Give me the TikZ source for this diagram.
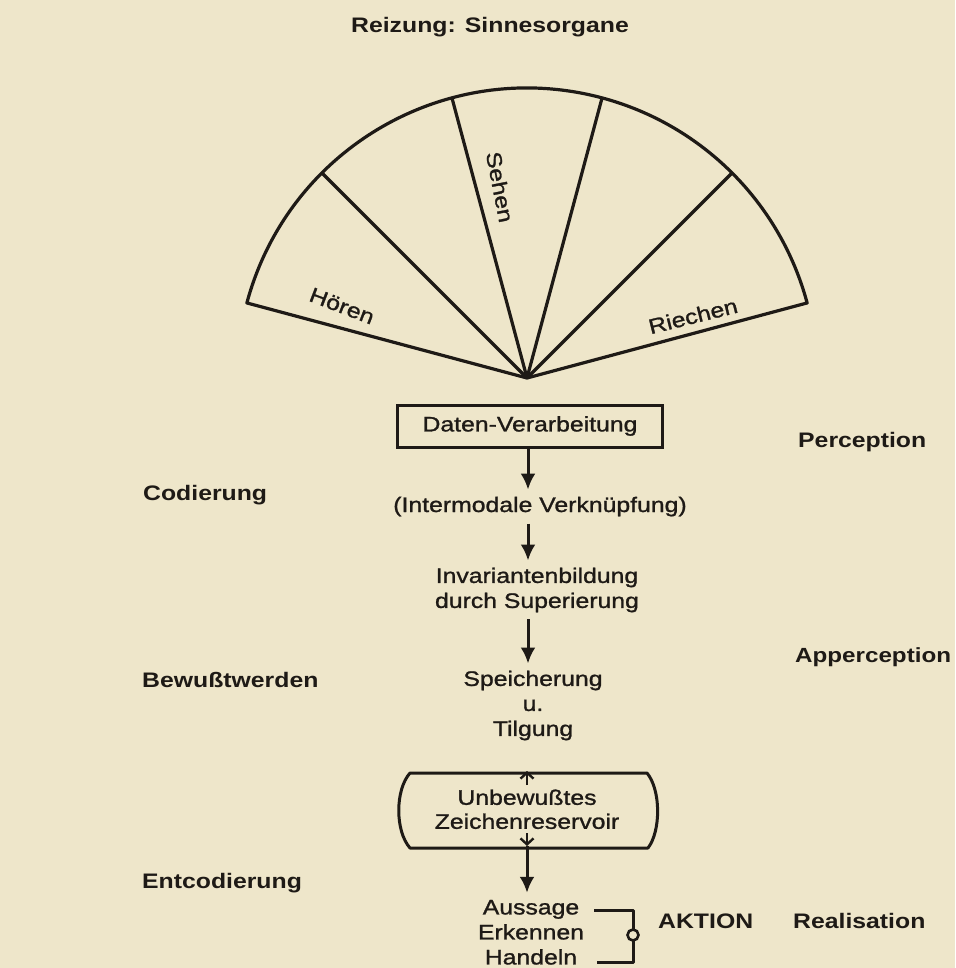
\documentclass[tikz,border=0pt]{standalone}
\usepackage{fontspec}
\setmainfont{Liberation Sans}[FakeStretch=1.18, UprightFeatures={FakeBold=1.2}]
\usetikzlibrary{arrows.meta,calc}
\definecolor{paper}{RGB}{238,230,202}
\definecolor{ink}{RGB}{30,26,22}
\begin{document}
\begin{tikzpicture}[x=1pt,y=-1pt,
  every node/.style={font=\fontsize{21}{25}\selectfont, text=ink, inner sep=0pt},
  side/.style={font=\fontsize{21}{25}\selectfont\bfseries, anchor=base west},
  ctext/.style={align=center, inner xsep=0pt, inner ysep=7pt},
  ln/.style={draw=ink, line width=3.2pt, line join=round},
  arr/.style={draw=ink, line width=3pt, -{Latex[length=16pt,width=15pt]}},
  barb/.style={draw=ink, line width=2.4pt, -{Straight Barb[length=6pt,width=13pt]}}
]
\fill[paper] (0,0) rectangle (955,968);
\useasboundingbox (0,0) rectangle (955,968);

% title
\node[font=\fontsize{21}{25}\selectfont\bfseries, anchor=base] (title) at (490,33) {Reizung: Sinnesorgane};

% fan of the senses
\coordinate (apex) at (527,378);
\draw[ln] (apex) -- ($(apex)+(-165:290)$) arc[start angle=-165, end angle=-15, radius=290] -- cycle;
\foreach \a in {-135,-105,-75,-45}{
  \draw[ln] (apex) -- ($(apex)+(\a:290)$);
}
\node[rotate=-21] (hoeren) at (342,306) {Hören};
\node[rotate=-79] (sehen) at (500,187) {Sehen};
\node[rotate=14] (riechen) at (693,316) {Riechen};

% central chain
\node[draw=ink, line width=3pt, minimum width=265pt, minimum height=42pt] (daten) at (530,426) {Daten-Verarbeitung};
\node[ctext, anchor=base] (inter) at (540,512) {(Intermodale Verknüpfung)};
\node[ctext] (inv) at (537,590) {Invariantenbildung\\durch Superierung};
\node[ctext] (spei) at (533,705.5) {Speicherung\\u.\\Tilgung};
\node[ctext, font=\fontsize{21}{24}\selectfont] (res) at (527,809.3) {Unbewußtes\\Zeichenreservoir};
\node[ctext] (aus) at (531,932.3) {Aussage\\Erkennen\\Handeln};

\draw[arr] (daten.south -| 528,0) -- (528,0 |- inter.north);
\draw[arr] (528,0 |- inter.south) -- (528,0 |- inv.north);
\draw[arr] (528,0 |- inv.south) -- (528,0 |- spei.north);

% reservoir outline
\coordinate (r1) at (410,773);
\coordinate (r2) at (647,773);
\coordinate (r3) at (648,848);
\coordinate (r4) at (410,848);
\draw[ln, line width=3pt] (r1) -- (r2) .. controls (661,790) and (661,831) .. (r3) -- (r4) .. controls (395,831) and (395,790) .. (r1) -- cycle;

\coordinate (resTop) at (527,771);
\coordinate (resIn) at (527,846);
\draw[barb] ($(resTop)+(0,14)$) -- (resTop);
\draw[barb] ($(resIn)+(0,-13)$) -- (resIn);
\draw[arr] (resIn) -- (resIn |- aus.north);

% bracket to AKTION
\coordinate (bA) at (594,910);
\coordinate (bC) at (633,910);
\coordinate (bD) at (633,962);
\coordinate (bH) at (597,962);
\draw[ln, line width=3pt] (bA) -- (bC) -- (bD) -- (bH);
\node[circle, draw=ink, line width=2.6pt, fill=paper, minimum size=11pt] (knot) at (633,935) {};

% side labels
\node[side] (cod) at (143,500) {Codierung};
\node[side] (perc) at (798,447) {Perception};
\node[side, font=\fontsize{20.5}{25}\selectfont\bfseries] (apperc) at (795,662) {Apperception};
\node[side] (bew) at (142,687) {Bewußtwerden};
\node[side] (entc) at (142,888) {Entcodierung};
\node[side] (akt) at (658,928) {AKTION};
\node[side] (real) at (793,928) {Realisation};
\end{tikzpicture}
\end{document}
